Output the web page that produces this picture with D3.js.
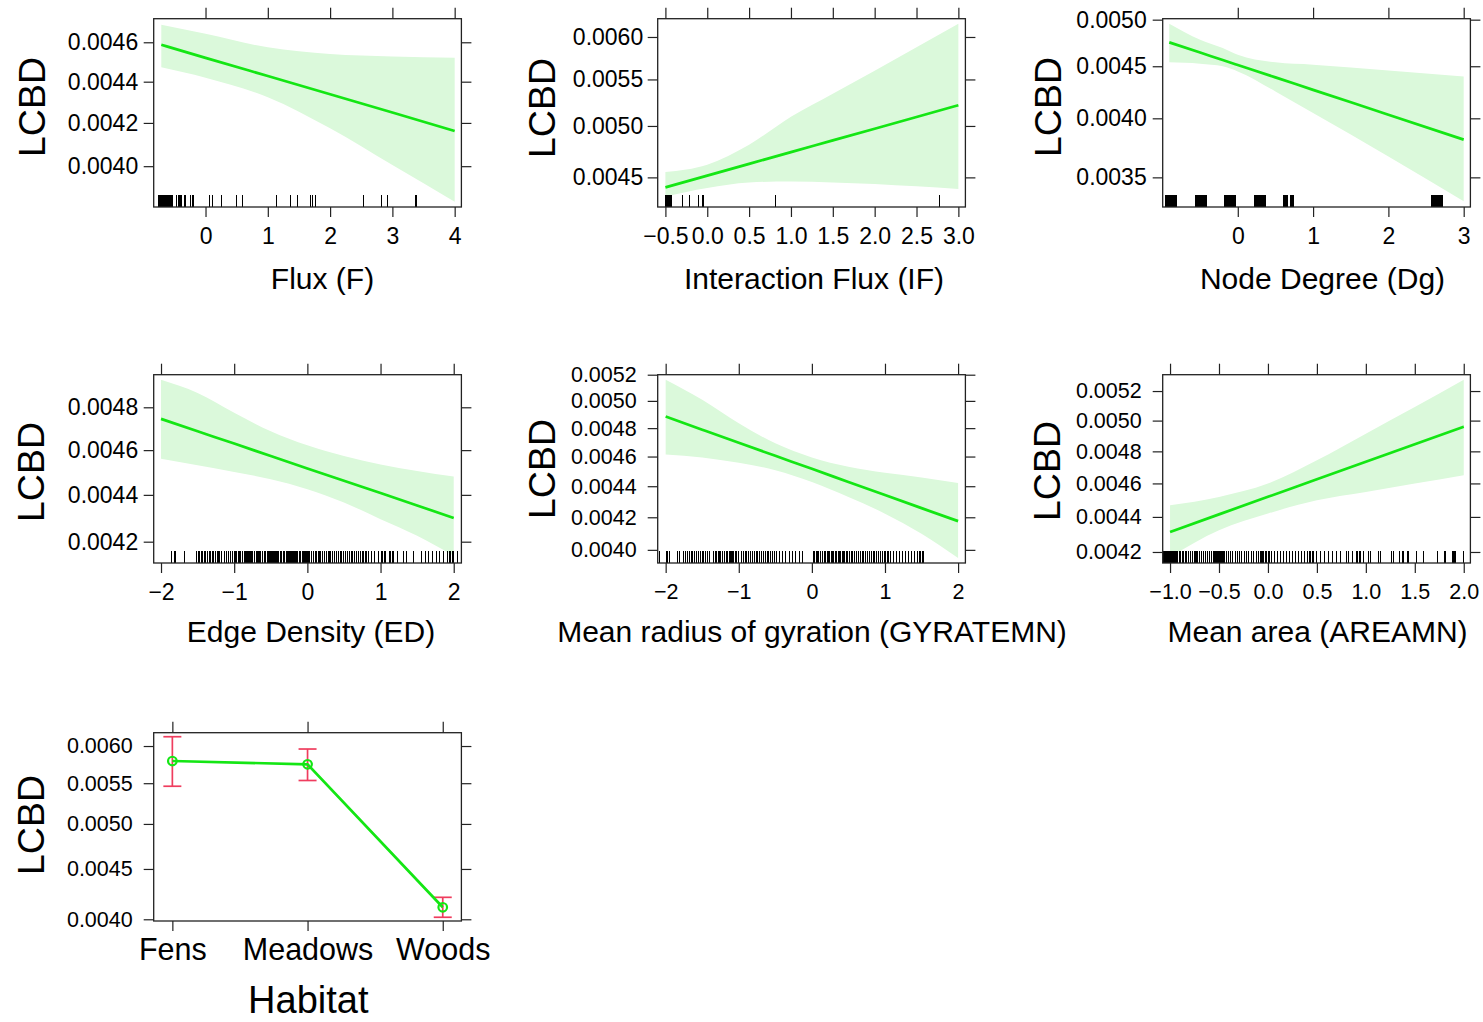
<!DOCTYPE html>
<html>
<head>
<meta charset="utf-8">
<script src="https://cdn.jsdelivr.net/npm/d3@7"></script>
<style>
  body { margin: 0; background: #fff; }
  text { font-family: "Liberation Sans", Arial, Helvetica, sans-serif; fill: #000; }
</style>
</head>
<body>
<div id="viz"></div>
<script>
// ---------- values ----------
// Flux (F)
var fluxX     = [-0.71, 0, 1, 2, 3, 4];
var fluxFit   = [0.004587, 0.004520, 0.004428, 0.004338, 0.004250, 0.004162];
var fluxLower = [0.004472, 0.004420, 0.004324, 0.004175, 0.004005, 0.003843];
var fluxUpper = [0.004692, 0.004644, 0.004574, 0.004540, 0.004527, 0.004520];
var fluxRug = [-0.76, -0.75, -0.74, -0.73, -0.72, -0.71, -0.70, -0.69, -0.68, -0.67, -0.66, -0.65,
  -0.62, -0.61, -0.60, -0.59, -0.57, -0.56, -0.55, -0.54, -0.53, -0.46, -0.44, -0.41, -0.39,
  -0.33, -0.24, -0.20, 0.06, 0.11, 0.26, 0.50, 0.60, 1.14, 1.37, 1.48, 1.68, 1.72, 1.77,
  2.53, 2.82, 2.92, 3.38];
var fluxTicks  = [0, 1, 2, 3, 4];
var fluxYTicks = [0.0040, 0.0042, 0.0044, 0.0046];

// Interaction Flux (IF)
var ifX     = [-0.5, 0, 0.5, 1, 1.5, 2, 2.5, 3];
var ifFit   = [0.004409, 0.004516, 0.004626, 0.004739, 0.004854, 0.004972, 0.005093, 0.005217];
var ifLower = [0.004328, 0.004403, 0.004454, 0.004463, 0.004454, 0.004440, 0.004418, 0.004394];
var ifUpper = [0.004550, 0.004619, 0.004812, 0.005096, 0.005342, 0.005600, 0.005874, 0.006166];
var ifRug = [-0.50, -0.49, -0.48, -0.47, -0.46, -0.45, -0.44, -0.43, -0.30, -0.21, -0.10, -0.05, 0.82, 2.77];
var ifTicks  = [-0.5, 0, 0.5, 1, 1.5, 2, 2.5, 3];
var ifYTicks = [0.0045, 0.0050, 0.0055, 0.0060];

// Node Degree (Dg)
var dgX     = [-0.91, -0.5, -0.2, 0, 0.5, 1, 2, 3];
var dgFit   = [0.004750, 0.004642, 0.004564, 0.004513, 0.004388, 0.004266, 0.004033, 0.003812];
var dgLower = [0.004540, 0.004526, 0.004499, 0.004448, 0.004251, 0.004049, 0.003670, 0.003315];
var dgUpper = [0.004955, 0.004779, 0.004690, 0.004619, 0.004540, 0.004516, 0.004458, 0.004398];
var dgRug = [-0.96, -0.945, -0.93, -0.915, -0.90, -0.885, -0.87, -0.855, -0.84, -0.825, -0.81,
  -0.565, -0.55, -0.535, -0.52, -0.505, -0.49, -0.475, -0.46, -0.445, -0.43, -0.415,
  -0.18, -0.165, -0.15, -0.135, -0.12, -0.105, -0.09, -0.075, -0.06, -0.045, -0.03,
  0.22, 0.235, 0.25, 0.265, 0.28, 0.295, 0.31, 0.325, 0.34, 0.355, 0.37,
  0.61, 0.625, 0.64, 0.655, 0.70, 0.715, 0.73, 0.745,
  2.57, 2.585, 2.60, 2.615, 2.63, 2.645, 2.66, 2.675, 2.69, 2.705, 2.72];
var dgTicks  = [0, 1, 2, 3];
var dgYTicks = [0.0035, 0.0040, 0.0045, 0.0050];

// Edge Density (ED)
var edX     = [-2, -1.5, -1, -0.5, 0, 0.5, 1, 1.5, 2];
var edFit   = [0.004745, 0.004687, 0.004630, 0.004573, 0.004517, 0.004462, 0.004408, 0.004354, 0.004300];
var edLower = [0.004561, 0.004531, 0.004501, 0.004469, 0.004425, 0.004367, 0.004295, 0.004225, 0.004142];
var edUpper = [0.004933, 0.004869, 0.004774, 0.004687, 0.004622, 0.004573, 0.004535, 0.004506, 0.004481];
var edRug = [-1.86, -1.81, -1.68,
  -1.52, -1.49, -1.47, -1.44, -1.41, -1.39, -1.36, -1.33, -1.30, -1.28, -1.25, -1.22, -1.20, -1.17,
  -1.13, -1.10, -1.08, -1.05, -1.02, -0.99, -0.97, -0.94, -0.92, -0.89, -0.86, -0.84, -0.81, -0.79,
  -0.77, -0.75, -0.72, -0.70, -0.68, -0.66, -0.64, -0.61, -0.59, -0.57, -0.55, -0.53, -0.51, -0.49,
  -0.47, -0.45, -0.43, -0.41, -0.39, -0.37, -0.35, -0.33, -0.31, -0.29, -0.27, -0.25, -0.23, -0.21,
  -0.19, -0.17, -0.15, -0.13, -0.11, -0.09, -0.06, -0.04, -0.02, 0.01, 0.03, 0.06, 0.08, 0.11, 0.13,
  0.16, 0.18, 0.21, 0.23, 0.26, 0.29, 0.31, 0.34, 0.37, 0.40, 0.43, 0.46, 0.49, 0.52, 0.55, 0.58,
  0.61, 0.64, 0.67, 0.70, 0.73, 0.76, 0.80, 0.84, 0.88, 0.92, 0.97, 1.02, 1.06,
  1.13, 1.17, 1.23, 1.31, 1.36, 1.45, 1.56, 1.61, 1.65, 1.71, 1.77, 1.81, 1.86, 1.92, 1.95, 1.99, 2.05];
var edTicks  = [-2, -1, 0, 1, 2];
var edYTicks = [0.0042, 0.0044, 0.0046, 0.0048];

// Mean radius of gyration (GYRATEMN)
var gyX     = [-2, -1.5, -1, -0.5, 0, 0.5, 1, 1.5, 2];
var gyFit   = [0.004884, 0.004789, 0.004696, 0.004605, 0.004516, 0.004428, 0.004342, 0.004258, 0.004176];
var gyLower = [0.004615, 0.004594, 0.004557, 0.004507, 0.004428, 0.004330, 0.004223, 0.004098, 0.003952];
var gyUpper = [0.005161, 0.005008, 0.004835, 0.004692, 0.004594, 0.004530, 0.004489, 0.004458, 0.004422];
var gyRug = [-2.08, -1.99, -1.97, -1.95, -1.84, -1.81, -1.76, -1.73, -1.70, -1.67, -1.64, -1.61,
  -1.58, -1.55, -1.52, -1.49, -1.46, -1.43, -1.40, -1.35, -1.32, -1.30, -1.27, -1.25, -1.22, -1.20,
  -1.17, -1.15, -1.12, -1.10, -1.08, -1.05, -1.03, -1.00, -0.96, -0.93, -0.90, -0.87, -0.84, -0.81,
  -0.78, -0.75, -0.72, -0.69, -0.66, -0.63, -0.60, -0.57, -0.54, -0.51, -0.48, -0.44, -0.40, -0.36,
  -0.31, -0.26, -0.22, -0.17, -0.13,
  0.02, 0.04, 0.07, 0.09, 0.12, 0.14, 0.17, 0.19, 0.22, 0.24, 0.27, 0.29, 0.32, 0.34, 0.37, 0.39,
  0.42, 0.44, 0.47, 0.49, 0.52, 0.55, 0.58, 0.61, 0.64, 0.67, 0.70, 0.73, 0.76, 0.79, 0.82, 0.85,
  0.88, 0.91, 0.94, 0.97, 1.00, 1.04, 1.08, 1.12, 1.16, 1.20, 1.24, 1.28, 1.32, 1.36, 1.40, 1.44,
  1.48, 1.52];
var gyTicks  = [-2, -1, 0, 1, 2];
var gyYTicks = [0.0040, 0.0042, 0.0044, 0.0046, 0.0048, 0.0050, 0.0052];

// Mean area (AREAMN)
var arX     = [-1, -0.5, 0, 0.5, 1, 1.5, 2];
var arFit   = [0.004313, 0.004415, 0.004519, 0.004625, 0.004734, 0.004846, 0.004960];
var arLower = [0.004172, 0.004323, 0.004420, 0.004498, 0.004548, 0.004599, 0.004650];
var arUpper = [0.004468, 0.004518, 0.004599, 0.004743, 0.004914, 0.005091, 0.005279];
var arRug = [-1.07, -1.06, -1.05, -1.04, -1.03, -1.02, -1.01, -1.00, -0.99, -0.98, -0.965, -0.95,
  -0.935, -0.92, -0.905, -0.89, -0.875, -0.86, -0.845, -0.83, -0.81, -0.79, -0.77, -0.75, -0.735,
  -0.72, -0.70, -0.68, -0.66, -0.64, -0.62, -0.60, -0.58, -0.56, -0.54, -0.52, -0.50, -0.48, -0.46,
  -0.44, -0.42, -0.40, -0.38, -0.36, -0.33, -0.31, -0.29, -0.27, -0.24, -0.22, -0.20, -0.17, -0.15,
  -0.12, -0.10, -0.07, -0.05, -0.02, 0.01, 0.04, 0.07, 0.10, 0.13, 0.16, 0.19, 0.22, 0.25, 0.28,
  0.31, 0.34, 0.37, 0.40, 0.43, 0.46, 0.50, 0.54, 0.58, 0.62, 0.66, 0.70, 0.74, 0.80, 0.82, 0.86,
  0.91, 0.94, 0.98, 1.03, 1.05, 1.13, 1.15, 1.26, 1.28, 1.34, 1.38, 1.43, 1.52, 1.59, 1.73, 1.80,
  1.81, 1.89, 1.91, 2.00];
var arTicks  = [-1, -0.5, 0, 0.5, 1, 1.5, 2];
var arYTicks = [0.0042, 0.0044, 0.0046, 0.0048, 0.0050, 0.0052];

// Habitat
var habitats  = ["Fens", "Meadows", "Woods"];
var habFit    = [0.005793, 0.005749, 0.004114];
var habLower  = [0.005461, 0.005535, 0.004019];
var habUpper  = [0.006132, 0.005958, 0.004211];
var habYTicks = [0.0040, 0.0045, 0.0050, 0.0055, 0.0060];

// ---------- layout ----------
var cols = [153.7, 657.7, 1162.7], rows = [18.7, 374.7, 732.7];
var W = 307.7, H = 188.3;
var lineCol = "#14e614", bandCol = "#dbf9db", barCol = "#ef3d5e", axisCol = "#222";

var svg = d3.select("#viz").append("svg")
    .attr("width", 1483).attr("height", 1022);

var panels = [
  {c: 0, r: 0, xs: fluxX, fit: fluxFit, lo: fluxLower, hi: fluxUpper, rug: fluxRug,
   xt: fluxTicks, yt: fluxYTicks, xd: [-0.832, 4.108], yd: [0.003820, 0.004724], fmt: d3.format("d"),
   lab: "Flux (F)", labX: 322.5, yl: [45, 107], fs: 23, pad: 5.5},
  {c: 1, r: 0, xs: ifX, fit: ifFit, lo: ifLower, hi: ifUpper, rug: ifRug,
   xt: ifTicks, yt: ifYTicks, xd: [-0.592, 3.084], yd: [0.004235, 0.006229], fmt: d3.format(".1f"),
   lab: "Interaction Flux (IF)", labX: 814, yl: [555, 108], fs: 23, pad: 4.5},
  {c: 2, r: 0, xs: dgX, fit: dgFit, lo: dgLower, hi: dgUpper, rug: dgRug,
   xt: dgTicks, yt: dgYTicks, xd: [-0.997, 3.089], yd: [0.003273, 0.005011], fmt: d3.format("d"),
   lab: "Node Degree (Dg)", labX: 1322.5, yl: [1061, 107], fs: 23, pad: 6},
  {c: 0, r: 1, xs: edX, fit: edFit, lo: edLower, hi: edUpper, rug: edRug,
   xt: edTicks, yt: edYTicks, xd: [-2.10, 2.105], yd: [0.004112, 0.004958], fmt: d3.format("d"),
   lab: "Edge Density (ED)", labX: 311, yl: [43.5, 472], fs: 23, pad: 5.5},
  {c: 1, r: 1, xs: gyX, fit: gyFit, lo: gyLower, hi: gyUpper, rug: gyRug,
   xt: gyTicks, yt: gyYTicks, xd: [-2.109, 2.10], yd: [0.003922, 0.005200], fmt: d3.format("d"),
   lab: "Mean radius of gyration (GYRATEMN)", labX: 812, yl: [555, 469], fs: 21.5, pad: 11},
  {c: 2, r: 1, xs: arX, fit: arFit, lo: arLower, hi: arUpper, rug: arRug,
   xt: arTicks, yt: arYTicks, xd: [-1.075, 2.068], yd: [0.004139, 0.005314], fmt: d3.format(".1f"),
   lab: "Mean area (AREAMN)", labX: 1317.5, yl: [1060, 471], fs: 21.5, pad: 11}
];

function frame(g, x, y, left, top, xt, yt, fmt, fs, pad, xpad) {
  var bottom = top + H, right = left + W;
  g.append("g").attr("class", "xaxis").attr("transform", "translate(0," + bottom + ")")
    .call(d3.axisBottom(x).tickValues(xt).tickFormat(fmt).tickSize(10).tickSizeOuter(0).tickPadding(xpad));
  g.append("g").attr("transform", "translate(0," + top + ")")
    .call(d3.axisTop(x).tickValues(xt).tickFormat("").tickSize(11).tickSizeOuter(0));
  g.append("g").attr("transform", "translate(" + left + ",0)")
    .call(d3.axisLeft(y).tickValues(yt).tickFormat(d3.format(".4f")).tickSize(10).tickSizeOuter(0).tickPadding(pad));
  g.append("g").attr("transform", "translate(" + right + ",0)")
    .call(d3.axisRight(y).tickValues(yt).tickFormat("").tickSize(10).tickSizeOuter(0));
  g.selectAll(".domain").remove();
  g.selectAll(".tick line").attr("stroke", axisCol).attr("stroke-width", 1.2);
  g.selectAll(".tick text").attr("font-size", fs).attr("fill", "#000")
    .style("font-family", '"Liberation Sans", Arial, sans-serif');
  g.append("rect").attr("x", left).attr("y", top).attr("width", W).attr("height", H)
    .attr("fill", "none").attr("stroke", axisCol).attr("stroke-width", 1.3);
}

function yLabel(pos) {
  svg.append("text").attr("transform", "translate(" + pos[0] + "," + pos[1] + ") rotate(-90)")
    .attr("text-anchor", "middle").attr("font-size", 37.5).text("LCBD");
}

panels.forEach(function(p) {
  var left = cols[p.c], top = rows[p.r], bottom = top + H;
  var x = d3.scaleLinear().domain(p.xd).range([left, left + W]);
  var y = d3.scaleLog().domain(p.yd).range([bottom, top]);
  var g = svg.append("g");
  var pts = p.xs.map(function(v, i) { return {x: v, f: p.fit[i], lo: p.lo[i], hi: p.hi[i]}; });

  g.append("path").datum(pts)
    .attr("d", d3.area().curve(d3.curveMonotoneX)
      .x(function(d) { return x(d.x); })
      .y0(function(d) { return y(d.lo); })
      .y1(function(d) { return y(d.hi); }))
    .attr("fill", bandCol);

  g.selectAll(".rug").data(p.rug).enter().append("line")
    .attr("x1", function(d) { return x(d); }).attr("x2", function(d) { return x(d); })
    .attr("y1", bottom).attr("y2", bottom - 12.5)
    .attr("stroke", "#000").attr("stroke-width", 1.2)
    .attr("shape-rendering", "crispEdges");

  g.append("path").datum(pts)
    .attr("d", d3.line().curve(d3.curveMonotoneX)
      .x(function(d) { return x(d.x); })
      .y(function(d) { return y(d.f); }))
    .attr("fill", "none").attr("stroke", lineCol).attr("stroke-width", 2.7);

  frame(g, x, y, left, top, p.xt, p.yt, p.fmt, p.fs, p.pad, 11);

  svg.append("text").attr("x", p.labX).attr("y", p.r == 0 ? 289 : 642)
    .attr("text-anchor", "middle").attr("font-size", 30).text(p.lab);
  yLabel(p.yl);
});

// Habitat panel
(function() {
  var left = cols[0], top = rows[2], bottom = top + H;
  var x = d3.scalePoint().domain(habitats).range([left, left + W]).padding(0.138);
  var y = d3.scaleLog().domain([0.003984, 0.00619]).range([bottom, top]);
  var g = svg.append("g");

  var bars = g.selectAll(".bar").data(habitats).enter().append("g")
    .attr("class", "bar").attr("stroke", barCol).attr("stroke-width", 1.7);
  bars.append("line")
    .attr("x1", function(d) { return x(d); }).attr("x2", function(d) { return x(d); })
    .attr("y1", function(d, i) { return y(habLower[i]); })
    .attr("y2", function(d, i) { return y(habUpper[i]); });
  bars.append("line")
    .attr("x1", function(d) { return x(d) - 9; }).attr("x2", function(d) { return x(d) + 9; })
    .attr("y1", function(d, i) { return y(habLower[i]); })
    .attr("y2", function(d, i) { return y(habLower[i]); });
  bars.append("line")
    .attr("x1", function(d) { return x(d) - 9; }).attr("x2", function(d) { return x(d) + 9; })
    .attr("y1", function(d, i) { return y(habUpper[i]); })
    .attr("y2", function(d, i) { return y(habUpper[i]); });

  g.append("path").datum(habitats)
    .attr("d", d3.line()
      .x(function(d) { return x(d); })
      .y(function(d, i) { return y(habFit[i]); }))
    .attr("fill", "none").attr("stroke", lineCol).attr("stroke-width", 2.7);

  g.selectAll(".pt").data(habitats).enter().append("circle")
    .attr("cx", function(d) { return x(d); })
    .attr("cy", function(d, i) { return y(habFit[i]); })
    .attr("r", 4.3).attr("fill", "none").attr("stroke", lineCol).attr("stroke-width", 2.2);

  frame(g, x, y, left, top, habitats, habYTicks, function(d) { return d; }, 21.5, 11, 7);
  g.select(".xaxis").selectAll(".tick text").attr("font-size", 30.5);

  svg.append("text").attr("x", 308.3).attr("y", 1013)
    .attr("text-anchor", "middle").attr("font-size", 38).text("Habitat");
  yLabel([43.5, 825]);
})();
</script>
</body>
</html>
